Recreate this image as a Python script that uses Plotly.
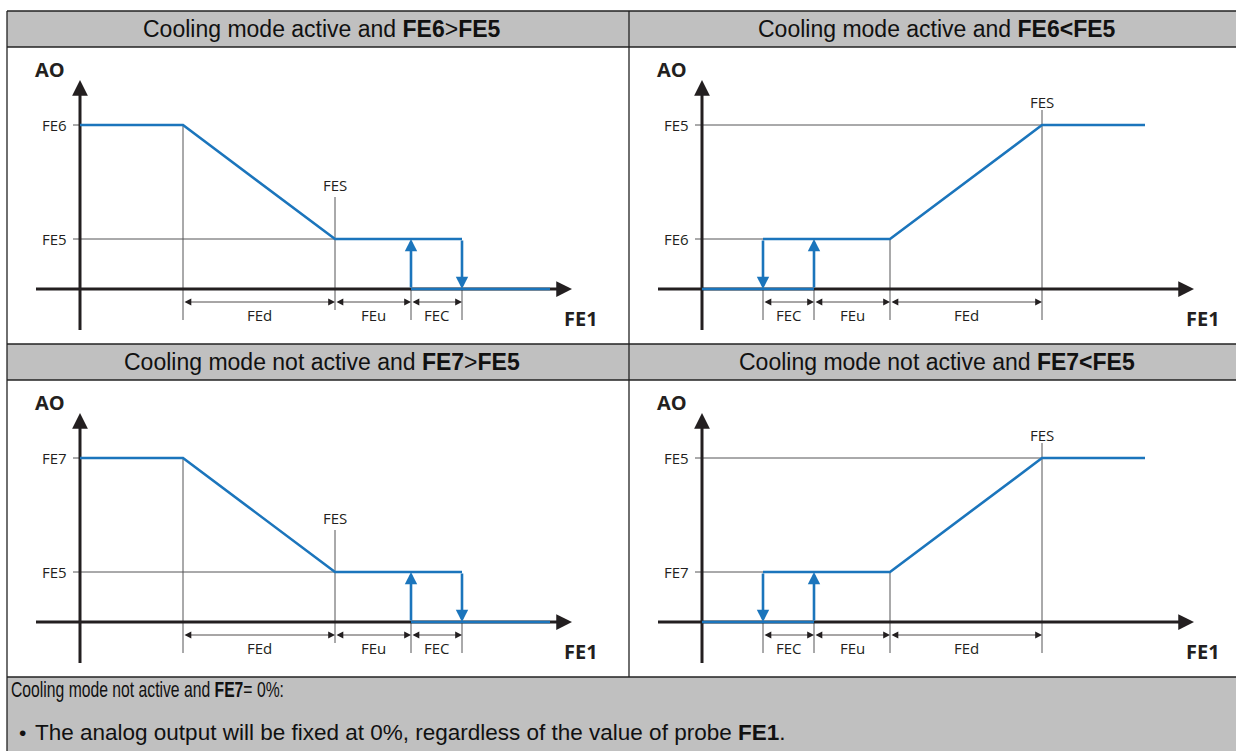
import plotly.graph_objects as go

W, H = 1236, 751

# ---- diagram parameters (FE1 units along x, AO units along y) ----
FEd = 152          # width of modulation band
FEu = 76           # offset band
FEC = 51           # hysteresis band
FES_desc = 255     # set point in the decreasing-output panels
FES_asc = 340      # set point in the increasing-output panels
AO_high = 164      # upper output level
AO_low = 50        # lower output level
end_desc = 470     # where the blue curve stops (decreasing panels)
end_asc = 443      # where the blue curve stops (increasing panels)

headers = [
    "Cooling mode active and <b>FE6</b>&gt;<b>FE5</b>",
    "Cooling mode active and <b>FE6&lt;FE5</b>",
    "Cooling mode not active and <b>FE7</b>&gt;<b>FE5</b>",
    "Cooling mode not active and <b>FE7&lt;FE5</b>",
]
kinds = ["desc", "asc", "desc", "asc"]
hi_labels = ["FE6", "FE5", "FE7", "FE5"]
lo_labels = ["FE5", "FE6", "FE5", "FE7"]
dim_names = ["FEd", "FEu", "FEC"]
footer_line1 = "Cooling mode not active and <b>FE7</b>= 0%:"
footer_line2 = "The analog output will be fixed at 0%, regardless of the value of probe <b>FE1</b>."

# ---- styling / layout constants ----
BLUE = "#1b75bc"
BLACK = "#231f20"
GREY = "#555557"
HEAD_BG = "#c0c0c0"
DIAG_FONT = "Open Sans"
TAB_FONT = "Liberation Sans, Arial"

cols = [(7, 629), (629, 1236)]
rows = [(47, 344), (380, 677)]
head_rows = [(11, 47), (344, 380)]
ORIGIN_DX = 73
ORIGIN_DY = 242
X_AXIS = (-44, 492)
Y_AXIS = (-41, 209)
DIM_Y = -13
EXT_BOT = -31
TICK = -7
LBL = 15

fig = go.Figure()
annotations = []
shapes = []


def suffix(i):
    return "" if i == 0 else str(i + 1)


def add_line(xs, ys, xr, yr, color, width):
    fig.add_trace(go.Scatter(x=xs, y=ys, xaxis=xr, yaxis=yr, mode="lines",
                             line=dict(color=color, width=width),
                             hoverinfo="skip", showlegend=False))


def add_arrow(x0, y0, x1, y1, xr, yr, color, width, size, side="end", head=2):
    annotations.append(dict(x=x1, y=y1, ax=x0, ay=y0, xref=xr, yref=yr,
                            axref=xr, ayref=yr, showarrow=True, text="",
                            arrowhead=head, startarrowhead=head, arrowside=side,
                            arrowsize=size, startarrowsize=size,
                            arrowwidth=width, arrowcolor=color, standoff=0,
                            startstandoff=0))


def add_text(x, y, txt, xr, yr, size, bold=False, xanchor="center", family=DIAG_FONT, color=BLACK):
    annotations.append(dict(x=x, y=y, xref=xr, yref=yr, text=("<b>%s</b>" % txt) if bold else txt,
                            showarrow=False, xanchor=xanchor, yanchor="middle",
                            font=dict(family=family, size=size, color=color)))


layout_axes = {}
for i, kind in enumerate(kinds):
    r, c = divmod(i, 2)
    cx0, cx1 = cols[c]
    cy0, cy1 = rows[r]
    ox = cx0 + ORIGIN_DX
    oy = cy0 + ORIGIN_DY
    s = suffix(i)
    xr, yr = "x" + s, "y" + s
    layout_axes["xaxis" + s] = dict(domain=[cx0 / W, cx1 / W], range=[cx0 - ox, cx1 - ox],
                                    visible=False, fixedrange=True, anchor=yr)
    layout_axes["yaxis" + s] = dict(domain=[1 - cy1 / H, 1 - cy0 / H], range=[oy - cy1, oy - cy0],
                                    visible=False, fixedrange=True, anchor=xr)

    if kind == "desc":
        FES = FES_desc
        x_ramp = FES - FEd
        x_on = FES + FEu
        x_off = x_on + FEC
        add_line([TICK, 0], [AO_high, AO_high], xr, yr, GREY, 1)
        add_line([TICK, FES], [AO_low, AO_low], xr, yr, GREY, 1)
        add_line([x_ramp, x_ramp], [AO_high, EXT_BOT], xr, yr, GREY, 1)
        add_line([FES, FES], [92, -21], xr, yr, GREY, 1)
        add_line([x_on, x_on], [0, EXT_BOT], xr, yr, GREY, 1)
        add_line([x_off, x_off], [0, EXT_BOT], xr, yr, GREY, 1)
        dims = [(x_ramp, FES), (FES, x_on), (x_on, x_off)]
        names = dim_names
        add_line([X_AXIS[0], X_AXIS[1] - 14], [0, 0], xr, yr, BLACK, 3)
        add_line([0, 0], [Y_AXIS[0], Y_AXIS[1] - 14], xr, yr, BLACK, 3)
        add_line([0, x_ramp, FES, x_off], [AO_high, AO_high, AO_low, AO_low], xr, yr, BLUE, 2.6)
        add_line([x_on, end_desc], [0, 0], xr, yr, BLUE, 2.6)
        add_arrow(x_on, 0, x_on, AO_low, xr, yr, BLUE, 2.6, 0.95)
        add_arrow(x_off, AO_low, x_off, 0, xr, yr, BLUE, 2.6, 0.95)
        add_text(FES, 104, "FES", xr, yr, LBL)
    else:
        FES = FES_asc
        x_ramp = FES - FEd
        x_on = x_ramp - FEu
        x_off = x_on - FEC
        add_line([TICK, FES], [AO_high, AO_high], xr, yr, GREY, 1)
        add_line([TICK, x_off], [AO_low, AO_low], xr, yr, GREY, 1)
        add_line([FES, FES], [179, EXT_BOT], xr, yr, GREY, 1)
        add_line([x_ramp, x_ramp], [AO_low, EXT_BOT], xr, yr, GREY, 1)
        add_line([x_on, x_on], [0, EXT_BOT], xr, yr, GREY, 1)
        add_line([x_off, x_off], [0, EXT_BOT], xr, yr, GREY, 1)
        dims = [(x_off, x_on), (x_on, x_ramp), (x_ramp, FES)]
        names = ["FEC", "FEu", "FEd"]
        add_line([X_AXIS[0], X_AXIS[1] - 14], [0, 0], xr, yr, BLACK, 3)
        add_line([0, 0], [Y_AXIS[0], Y_AXIS[1] - 14], xr, yr, BLACK, 3)
        add_line([x_off, x_ramp, FES, end_asc], [AO_low, AO_low, AO_high, AO_high], xr, yr, BLUE, 2.6)
        add_line([0, x_on], [0, 0], xr, yr, BLUE, 2.6)
        add_arrow(x_on, 0, x_on, AO_low, xr, yr, BLUE, 2.6, 0.95)
        add_arrow(x_off, AO_low, x_off, 0, xr, yr, BLUE, 2.6, 0.95)
        add_text(FES, 187, "FES", xr, yr, LBL)

    add_arrow(X_AXIS[1] - 16, 0, X_AXIS[1], 0, xr, yr, BLACK, 3, 1.05)
    add_arrow(0, Y_AXIS[1] - 16, 0, Y_AXIS[1], xr, yr, BLACK, 3, 1.05)
    for (a, b), nm in zip(dims, names):
        add_arrow(a, DIM_Y, b, DIM_Y, xr, yr, BLACK, 0.8, 1.7, side="end+start")
        add_text((a + b) / 2, -26, nm, xr, yr, LBL)
    add_text(-11, AO_high, hi_labels[i], xr, yr, LBL, xanchor="right")
    add_text(-11, AO_low, lo_labels[i], xr, yr, LBL, xanchor="right")
    add_text(-30, 220, "AO", xr, yr, 20, bold=True)
    add_text(501, -29, "FE1", xr, yr, 20, bold=True)

# ---- table structure ----
for (ty0, ty1) in head_rows + [(677, 751)]:
    shapes.append(dict(type="rect", xref="paper", yref="paper", x0=7 / W, x1=1236 / W,
                       y0=1 - ty1 / H, y1=1 - ty0 / H, fillcolor=HEAD_BG, line=dict(width=0), layer="below"))
for yy in [11, 47, 344, 380, 677]:
    shapes.append(dict(type="line", xref="paper", yref="paper", x0=7 / W, x1=1236 / W,
                       y0=1 - yy / H, y1=1 - yy / H, line=dict(color="#222222", width=1.3)))
shapes.append(dict(type="line", xref="paper", yref="paper", x0=7 / W, x1=7 / W,
                   y0=0, y1=1 - 11 / H, line=dict(color="#222222", width=1.3)))
shapes.append(dict(type="line", xref="paper", yref="paper", x0=629 / W, x1=629 / W,
                   y0=1 - 677 / H, y1=1 - 11 / H, line=dict(color="#222222", width=1.3)))

for i, htxt in enumerate(headers):
    r, c = divmod(i, 2)
    cx = (cols[c][0] + cols[c][1]) / 2 + 4
    hy = (head_rows[r][0] + head_rows[r][1]) / 2
    annotations.append(dict(x=cx / W, y=1 - hy / H, xref="paper", yref="paper", text=htxt,
                            showarrow=False, xanchor="center", yanchor="middle",
                            font=dict(family=TAB_FONT, size=23, color="#111111")))

annotations.append(dict(x=9 / W, y=1 - 690 / H, xref="paper", yref="paper", text=footer_line1,
                        showarrow=False, xanchor="left", yanchor="middle",
                        font=dict(family=TAB_FONT, size=21.5, color="#111111")))
annotations.append(dict(x=17 / W, y=1 - 732 / H, xref="paper", yref="paper", text="•",
                        showarrow=False, xanchor="left", yanchor="middle",
                        font=dict(family=TAB_FONT, size=21, color="#111111")))
annotations.append(dict(x=33 / W, y=1 - 732 / H, xref="paper", yref="paper", text=footer_line2,
                        showarrow=False, xanchor="left", yanchor="middle",
                        font=dict(family=TAB_FONT, size=22.5, color="#111111")))

post = """
document.body.style.margin='0';
document.body.style.overflow='hidden';
document.querySelectorAll('text.annotation-text').forEach(function(t){
  if (t.textContent.indexOf('Cooling mode not active and FE7=') === 0) {
    var b = t.getBBox(); var s = 273 / b.width;
    t.setAttribute('transform', 'translate(' + (b.x * (1 - s)) + ',0) scale(' + s + ',1)');
  }
});
"""

fig.update_layout(width=W, height=H, margin=dict(l=0, r=0, t=0, b=0),
                  paper_bgcolor="white", plot_bgcolor="rgba(0,0,0,0)",
                  showlegend=False, annotations=annotations, shapes=shapes, **layout_axes)
fig.write_html("out.html", config={"displayModeBar": False}, post_script=post)
